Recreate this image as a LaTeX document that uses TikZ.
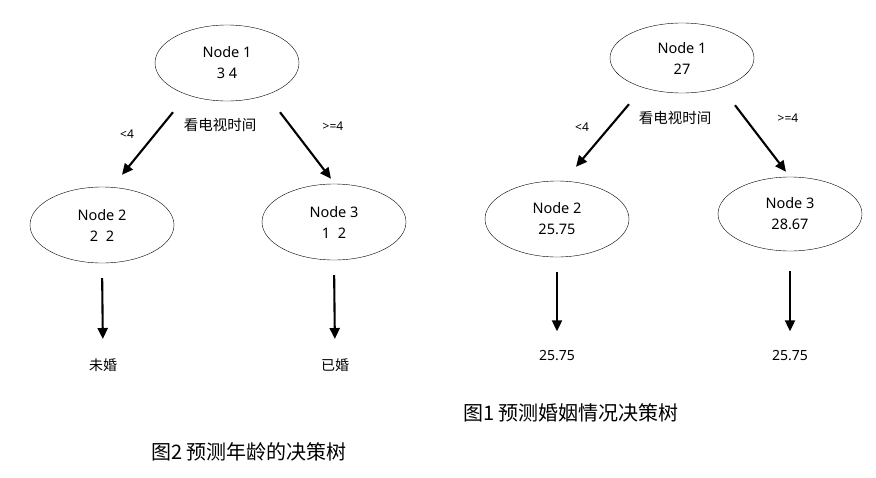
\documentclass[tikz,border=0pt]{standalone}
\usepackage{fontspec}
\setmainfont{Noto Sans}
\newfontfamily\cjk{Noto Sans CJK SC}
\usetikzlibrary{positioning,shapes.geometric,arrows.meta}

\begin{document}
\begin{tikzpicture}[x=1pt, y=-1pt,
    tnode/.style={draw, ellipse, minimum width=144pt, minimum height=76pt, inner sep=0pt,
        align=center, font=\fontsize{14.5}{21}\selectfont},
    arr/.style={-{Triangle[length=11pt,width=10pt]}, line width=2.1pt},
    lbl/.style={font=\fontsize{12}{14}\selectfont},
    leaf/.style={font=\fontsize{14}{16}\selectfont},
    figcap/.style={font=\cjk\fontsize{20}{22}\selectfont}]
    \useasboundingbox (0,0) rectangle (876,477);
    % left tree: age
    \node[tnode] (a1) at (227,63) {Node 1\\3 4};
    \node[tnode] (a2) at (102,225) {Node 2\\2\ \ 2};
    \node[tnode] (a3) at (334,222) {Node 3\\1\ \ 2};
    \node[leaf] (a4) at (103,365) {\cjk 未婚};
    \node[leaf] (a5) at (335,365) {\cjk 已婚};
    \draw[arr] ([xshift=-54pt,yshift=-11pt]a1.south) -- ([xshift=20pt,yshift=12pt]a2.north);
    \draw[arr] ([xshift=53pt,yshift=-11pt]a1.south) -- ([xshift=-3pt,yshift=5pt]a3.north);
    \draw[arr, shorten <=15pt, shorten >=16pt] (a2.south) -- (a4.north);
    \draw[arr, shorten <=15pt, shorten >=16pt] (a3.south) -- (a5.north);
    \node[lbl] at (127,134) {<4};
    \node[lbl, font=\cjk\fontsize{14.5}{16}\selectfont] at (220,125) {看电视时间};
    \node[lbl] at (333,126) {>=4};
    \node[figcap] (acap) at (249,452) {图2 预测年龄的决策树};
    % right tree: marriage
    \node[tnode, minimum height=70pt] (b1) at (682,58) {Node 1\\27};
    \node[tnode] (b2) at (557,219) {Node 2\\25.75};
    \node[tnode, minimum height=74pt] (b3) at (790,214) {Node 3\\28.67};
    \node[leaf] (b4) at (557,356) {25.75};
    \node[leaf] (b5) at (790,356) {25.75};
    \draw[arr] ([xshift=-53pt,yshift=-11pt]b1.south) -- ([xshift=19pt,yshift=14pt]b2.north);
    \draw[arr] ([xshift=53pt,yshift=-12pt]b1.south) -- ([xshift=-4pt,yshift=5pt]b3.north);
    \draw[arr, shorten <=15pt, shorten >=16pt] (b2.south) -- (b4.north);
    \draw[arr, shorten <=20pt, shorten >=16pt] (b3.south) -- (b5.north);
    \node[lbl] at (582,127) {<4};
    \node[lbl, font=\cjk\fontsize{14.5}{16}\selectfont] at (675,118) {看电视时间};
    \node[lbl] at (788,118) {>=4};
    \node[figcap] (bcap) at (571,413) {图1 预测婚姻情况决策树};
\end{tikzpicture}
\end{document}
